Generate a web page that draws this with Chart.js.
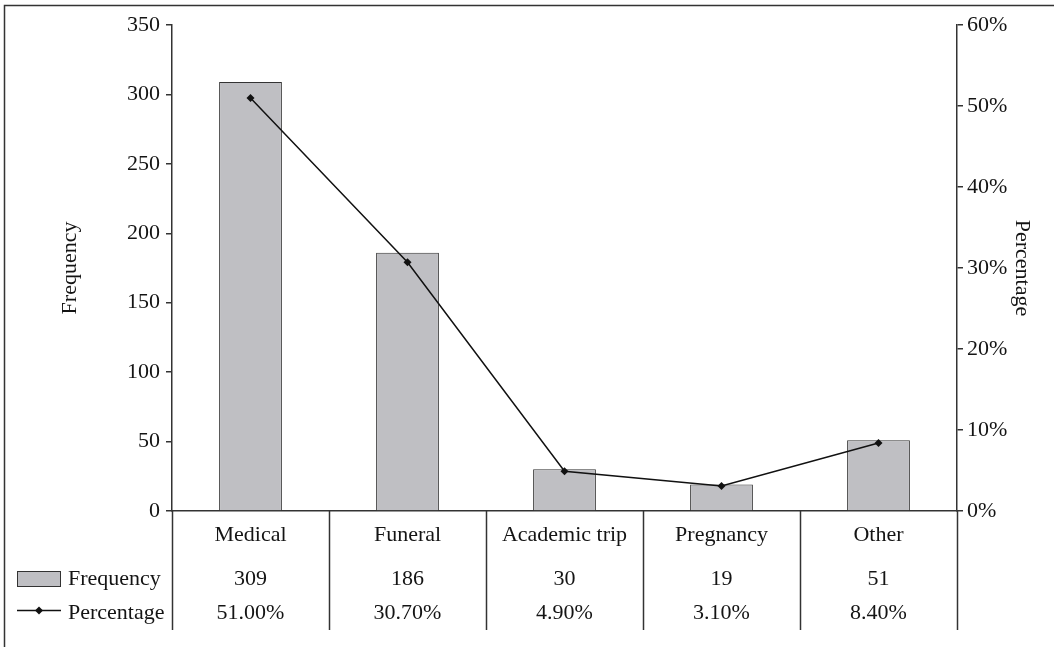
<!DOCTYPE html>
<html>
<head>
<meta charset="utf-8">
<script src="https://cdn.jsdelivr.net/npm/chart.js@4/dist/chart.umd.min.js"></script>
<style>
  html, body { margin: 0; padding: 0; background: #fff; }
  #wrap { position: relative; width: 1054px; height: 647px; }
  #chartLeave { display: block; }
</style>
</head>
<body>
<div id="wrap"><canvas id="chartLeave" width="1054" height="647"></canvas></div>
<script>
const categories = ['Medical', 'Funeral', 'Academic trip', 'Pregnancy', 'Other'];
const frequency = [309, 186, 30, 19, 51];
const percentage = [51.0, 30.7, 4.9, 3.1, 8.4];
const freqTicks = [0, 50, 100, 150, 200, 250, 300, 350];
const pctTicks = [0, 10, 20, 30, 40, 50, 60];

const FONT = '"Liberation Serif", "Times New Roman", serif';
const FONT_SIZE = 22;
const INK = '#141414';
const BAR_FILL = '#bfbfc3';
const TABLE_BOTTOM = 630;

// tabla de datos bajo el eje x, con la leyenda a la izquierda
const tablaPlugin = {
    id: 'tablaDatos',
    afterDraw(chart) {
        const ctx = chart.ctx;
        const x = chart.scales.x;
        const area = chart.chartArea;
        const band = (x.getPixelForValue(1) - x.getPixelForValue(0));
        const rowFreq = 579;
        const rowPct = 613;

        ctx.save();
        ctx.strokeStyle = '#333';
        ctx.lineWidth = 1.5;
        for (let i = 0; i <= categories.length; i++) {
            const px = Math.round(x.getPixelForValue(0) - band / 2 + i * band) + 0.5;
            ctx.beginPath();
            ctx.moveTo(px, area.bottom);
            ctx.lineTo(px, TABLE_BOTTOM);
            ctx.stroke();
        }

        ctx.font = FONT_SIZE + 'px ' + FONT;
        ctx.fillStyle = INK;
        ctx.textAlign = 'center';
        ctx.textBaseline = 'middle';
        categories.forEach((c, i) => {
            const px = x.getPixelForValue(i);
            ctx.fillText(String(frequency[i]), px, rowFreq);
            ctx.fillText(percentage[i].toFixed(2) + '%', px, rowPct);
        });

        // claves de la leyenda
        ctx.fillStyle = BAR_FILL;
        ctx.fillRect(17, 571, 44, 16);
        ctx.strokeStyle = '#333';
        ctx.lineWidth = 1;
        ctx.strokeRect(17.5, 571.5, 43, 15);

        ctx.strokeStyle = '#111';
        ctx.lineWidth = 1.5;
        ctx.beginPath();
        ctx.moveTo(17, 610.5);
        ctx.lineTo(61, 610.5);
        ctx.stroke();
        ctx.fillStyle = '#111';
        ctx.beginPath();
        ctx.moveTo(39, 606.5);
        ctx.lineTo(43, 610.5);
        ctx.lineTo(39, 614.5);
        ctx.lineTo(35, 610.5);
        ctx.closePath();
        ctx.fill();

        ctx.fillStyle = INK;
        ctx.textAlign = 'left';
        ctx.fillText('Frequency', 68, rowFreq);
        ctx.fillText('Percentage', 68, rowPct);

        // marco superior e izquierdo
        ctx.strokeStyle = '#333';
        ctx.lineWidth = 1.5;
        ctx.beginPath();
        ctx.moveTo(4.5, 647);
        ctx.lineTo(4.5, 5.5);
        ctx.lineTo(1054, 5.5);
        ctx.stroke();
        ctx.restore();
    }
};

const ctx = document.getElementById('chartLeave').getContext('2d');
new Chart(ctx, {
    data: {
        labels: categories,
        datasets: [
            {
                type: 'line',
                label: 'Percentage',
                data: percentage,
                yAxisID: 'yPct',
                borderColor: '#111',
                backgroundColor: '#111',
                borderWidth: 1.5,
                pointStyle: 'rectRot',
                pointRadius: 4,
                pointBorderWidth: 0,
                tension: 0,
                order: 0
            },
            {
                type: 'bar',
                label: 'Frequency',
                data: frequency,
                yAxisID: 'y',
                backgroundColor: BAR_FILL,
                borderColor: '#333',
                borderWidth: 1,
                categoryPercentage: 1,
                barPercentage: 0.4,
                order: 1
            }
        ]
    },
    options: {
        responsive: false,
        animation: false,
        devicePixelRatio: 1,
        layout: { padding: { left: 55, right: 17, top: 25, bottom: 96 } },
        plugins: {
            legend: { display: false },
            tooltip: { enabled: false }
        },
        scales: {
            x: {
                grid: { display: false },
                border: { display: true, color: '#333', width: 1.5 },
                ticks: { color: INK, font: { family: FONT, size: FONT_SIZE }, padding: 3, maxRotation: 0 },
                afterFit: (s) => { s.height = 40; }
            },
            y: {
                position: 'left',
                min: 0,
                max: 350,
                afterBuildTicks: (s) => { s.ticks = freqTicks.map(v => ({ value: v })); },
                grid: { drawOnChartArea: false, tickLength: 6, color: '#333', lineWidth: 1.5 },
                border: { display: true, color: '#333', width: 1.5 },
                ticks: { color: INK, font: { family: FONT, size: FONT_SIZE }, padding: 6 },
                title: { display: true, text: 'Frequency', color: INK, font: { family: FONT, size: FONT_SIZE }, padding: 2 },
                afterFit: (s) => { s.width = 117; }
            },
            yPct: {
                position: 'right',
                min: 0,
                max: 60,
                afterBuildTicks: (s) => { s.ticks = pctTicks.map(v => ({ value: v })); },
                grid: { drawOnChartArea: false, tickLength: 6, color: '#333', lineWidth: 1.5 },
                border: { display: true, color: '#333', width: 1.5 },
                ticks: { color: INK, font: { family: FONT, size: FONT_SIZE }, padding: 4, callback: (v) => v + '%' },
                title: { display: true, text: 'Percentage', color: INK, font: { family: FONT, size: FONT_SIZE }, padding: 2 },
                afterFit: (s) => { s.width = 80; }
            }
        }
    },
    plugins: [tablaPlugin]
});
</script>
</body>
</html>
